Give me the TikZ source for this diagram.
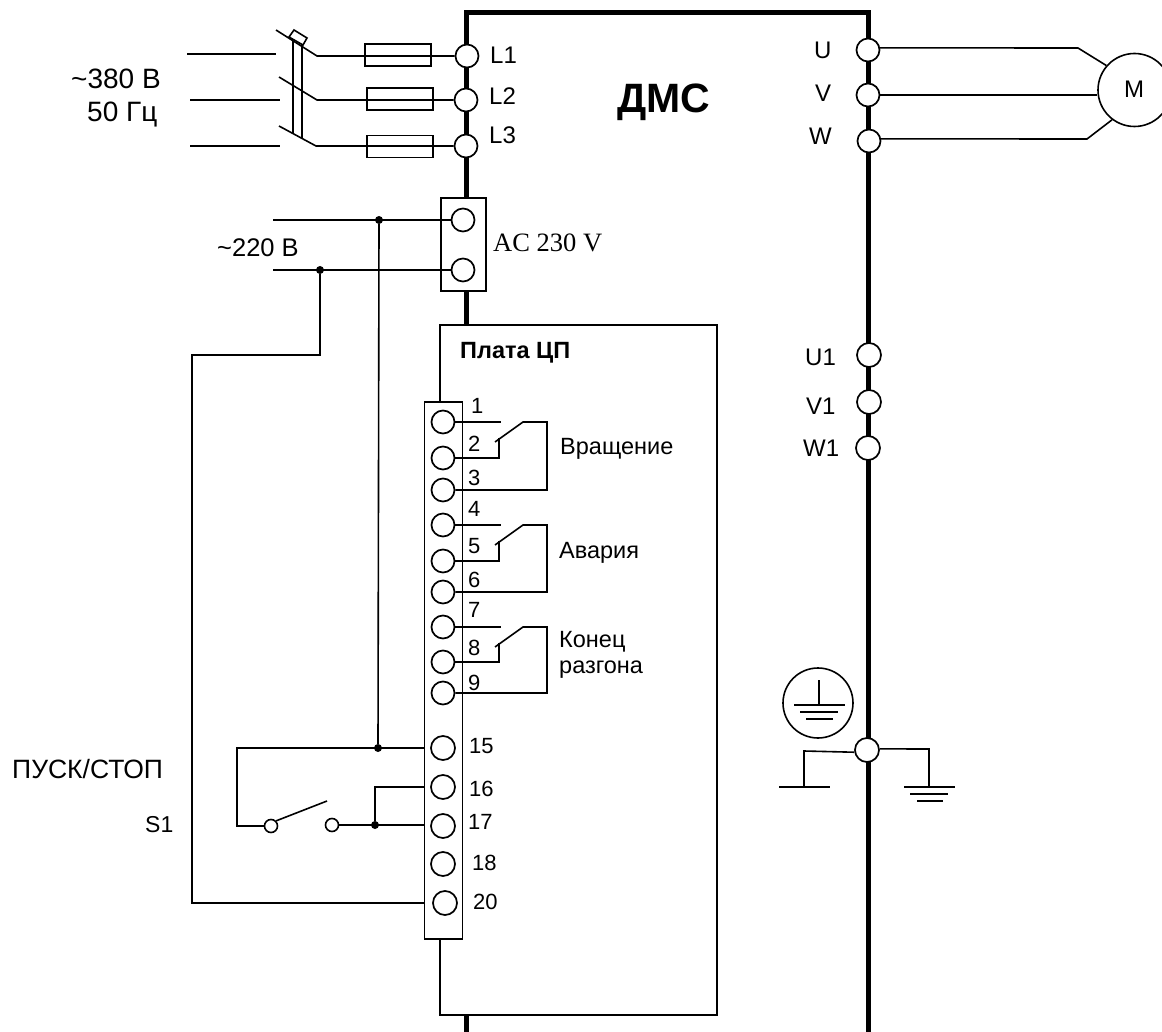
\documentclass[tikz,border=0pt]{standalone}
\usepackage{fontspec}
\setmainfont{Liberation Sans}
\newfontfamily\serifx{Liberation Serif}
\tikzset{
 wire/.style={line width=1.6pt,line join=miter},
 bus/.style={line width=5pt,line join=miter},
 term/.style={circle,draw,line width=1.7pt,fill=white,minimum size=23pt,inner sep=0pt},
 smallterm/.style={circle,draw,line width=1.6pt,fill=white,minimum size=13pt,inner sep=0pt},
 jun/.style={circle,fill=black,minimum size=8pt,inner sep=0pt},
 fuse/.style={draw,line width=1.6pt,minimum width=66pt,minimum height=22pt,inner sep=0pt},
 lab/.style={anchor=base west,inner sep=0pt,font=\fontsize{24}{28}\selectfont},
 num/.style={anchor=base west,inner sep=0pt,font=\fontsize{22}{26}\selectfont},
 txt/.style={anchor=base west,inner sep=0pt,font=\fontsize{23.5}{28}\selectfont},
 big/.style={anchor=base west,inner sep=0pt,font=\fontsize{28}{32}\selectfont},
}
\begin{document}
\begin{tikzpicture}[x=1pt,y=-1pt]
\useasboundingbox (0,0) rectangle (1162,1032);
% frame
\draw[bus] (466,198) -- (466,13) -- (868,13) -- (868,1032);
\draw[bus] (466,292) -- (466,325);
\draw[bus] (466,1015) -- (466,1032);
% input terminals
\node[term] (L1) at (467,56) {};
\node[term] (L2) at (466,100) {};
\node[term] (L3) at (466,146) {};
% fuses
\node[fuse] (F1) at (398,55) {};
\node[fuse] (F2) at (400,99) {};
\node[fuse] (F3) at (400,146.5) {};
% supply wires and blades
\coordinate (a1) at (187,54); \coordinate (b1) at (276,54);
\coordinate (a2) at (190,100); \coordinate (b2) at (280,100);
\coordinate (a3) at (190,146); \coordinate (b3) at (280,146);
\draw[wire] (a1) -- (b1);
\draw[wire] (a2) -- (b2);
\draw[wire] (a3) -- (b3);
\draw[wire] (276,30) -- (317,56) -- (L1.west);
\draw[wire] (279,77) -- (317,100) -- (L2.west);
\draw[wire] (279,126) -- (316,146) -- (L3.west);
\draw[wire] (293,41) -- (293,134);
\draw[wire] (302,44) -- (302,138);
\draw[wire,fill=white] (294,30) -- (307,38) -- (303,45) -- (289,37) -- cycle;
% output
\node[term] (U) at (868,50) {};
\node[term] (V) at (868,95) {};
\node[term] (W) at (869,141) {};
\node[draw,circle,line width=1.6pt,minimum size=73pt,inner sep=0pt] (M) at (1134.5,90) {};
\node[inner sep=0pt,font=\fontsize{24}{28}\selectfont] at (1134,89) {M};
\coordinate (ku) at (1078,48);
\coordinate (kw) at (1087,139);
\draw[wire] (U.10) -- (ku) -- (M.139);
\draw[wire] (V.east) -- (M.west |- V.east);
\draw[wire] (W.10) -- (kw) -- (M.233);
\node[term,minimum size=24pt] (U1) at (869,355) {};
\node[term,minimum size=24pt] (V1) at (869,402) {};
\node[term,minimum size=24pt] (W1) at (868,448) {};
% AC box
\node[draw,line width=1.6pt,fill=white,minimum width=45pt,minimum height=93pt,inner sep=0pt] (AC) at (463.5,244.5) {};
\node[term] (A1) at (463,220) {};
\node[term] (A2) at (463,270) {};
\coordinate (s1) at (273,220); \coordinate (s2) at (273,270);
\node[jun] (j1) at (379,220) {};
\node[jun] (j2) at (320,270) {};
\draw[wire] (s1) -- (A1.west);
\draw[wire] (s2) -- (A2.west);
% plate
\draw[wire,fill=white] (440,402) -- (440,325) -- (717,325) -- (717,1015) -- (440,1015) -- (440,939);
% block
\node[draw,line width=1.6pt,fill=white,minimum width=38pt,minimum height=537pt,inner sep=0pt] (TB) at (443.5,670.5) {};
\foreach \n/\x/\y in {1/443/422,2/443/458,3/443/490,4/443/525,5/443/561,6/443/592,7/443/627,8/443/662,9/443/693}
  \node[term] (T\n) at (\x,\y) {};
\foreach \n/\x/\y in {15/443/748,16/443/787,17/443/826,18/443/864,20/445/903}
  \node[term,minimum size=24pt] (T\n) at (\x,\y) {};
% relays
\foreach \a/\b/\c in {1/2/3,4/5/6,7/8/9}{
  \coordinate (open\a) at ([xshift=58pt]T\a.center);
  \coordinate (pv\a) at ([xshift=80pt]T\a.center);
  \coordinate (rt\a) at ([xshift=104pt]T\a.center);
  \coordinate (bk\a) at ([xshift=56pt]T\b.center);
  \coordinate (tp\a) at ([xshift=56pt,yshift=-16pt]T\a.center);
  \coordinate (tip\a) at ([xshift=52pt,yshift=-20pt]T\a.center);
  \draw[wire] (T\a.east) -- (open\a);
  \draw[wire] (T\b.east) -- (bk\a) -- (tp\a);
  \draw[wire] (tip\a) -- (pv\a) -- (rt\a) -- (rt\a |- T\c) -- (T\c.east);
}
% lower wiring
\coordinate (sw0) at (237,748);
\coordinate (sw1) at (237,826);
\coordinate (rt20) at (192,903);
\coordinate (rt21) at (192,355);
\coordinate (rt22) at (320,355);
\coordinate (bladeend) at (327,801);
\coordinate (v16) at (375,787);
\node[smallterm] (S1) at (271,826) {};
\node[smallterm] (S2) at (332,825) {};
\node[jun] (j3) at (378,748) {};
\node[jun] (j4) at (375,825) {};
\draw[wire] (TB.west |- T15) -- (sw0) -- (sw1) -- (S1.west);
\draw[wire] (S1.north east) -- (bladeend);
\draw[wire] (S2.east) -- (TB.west |- S2);
\draw[wire] (j4) -- (v16) -- (TB.west |- v16);
\draw[wire] (j1) -- (j3);
\draw[wire] (j2) -- (rt22) -- (rt21) -- (rt20) -- (TB.west |- rt20);
% ground
\node[draw,circle,line width=1.6pt,minimum size=70pt,inner sep=0pt] (PE) at (818,703) {};
\coordinate (g0) at (819,680); \coordinate (g1) at (819,705);
\draw[wire] (g0) -- (g1);
\draw[wire] (794,705) -- (845,705);
\draw[wire] (800,712) -- (838,712);
\draw[wire] (806,719) -- (833,719);
\node[term,minimum size=24pt] (G) at (867,750) {};
\coordinate (gl) at (804,751); \coordinate (gl2) at (804,787);
\coordinate (gr) at (929,749); \coordinate (gr2) at (929,787);
\draw[wire] (G.190) -- (gl) -- (gl2);
\draw[wire] (G.5) -- (gr) -- (gr2);
\draw[wire] (779,787) -- (830,787);
\draw[wire] (904,787) -- (955,787);
\draw[wire] (910,794) -- (948,794);
\draw[wire] (917,801) -- (943,801);
% labels
\node[big] at (71,89) {\char"007E 380 В};
\node[big] at (87,122) {50 Гц};
\node[lab] at (490,64) {L1};
\node[lab] at (489,105) {L2};
\node[lab] at (489,144) {L3};
\node[lab] at (814,59) {U};
\node[lab] at (815,102) {V};
\node[lab] at (809,145) {W};
\node[lab] at (805,366) {U1};
\node[lab] at (806,414) {V1};
\node[lab] at (803,456) {W1};
\node[anchor=base west,inner sep=0pt,font=\fontsize{41}{46}\selectfont\bfseries] at (617,113) {ДМС};
\node[anchor=base west,inner sep=0pt,font=\serifx\fontsize{26.5}{30}\selectfont] at (493,252) {AC 230 V};
\node[anchor=base west,inner sep=0pt,font=\fontsize{25.5}{30}\selectfont] at (217,257) {\char"007E 220 В};
\node[anchor=base west,inner sep=0pt,font=\fontsize{23.5}{28}\selectfont\bfseries] at (460,358) {Плата ЦП};
\foreach \t/\x/\y in {1/471/413,2/468/451,3/468/485,4/468/516,5/468/553,6/468/587,7/468/617,8/468/655,9/468/690,15/469/753,16/469/796,17/468/829,18/472/870,20/473/909}
  \node[num] at (\x,\y) {\t};
\node[txt] at (560,454) {Вращение};
\node[txt] at (559,558) {Авария};
\node[txt] at (559,647) {Конец};
\node[txt] at (559,673) {разгона};
\node[anchor=base west,inner sep=0pt,font=\fontsize{26.5}{30}\selectfont] at (12,778) {ПУСК/СТОП};
\node[anchor=base west,inner sep=0pt,font=\fontsize{23}{28}\selectfont] at (145,832) {S1};
\end{tikzpicture}
\end{document}
